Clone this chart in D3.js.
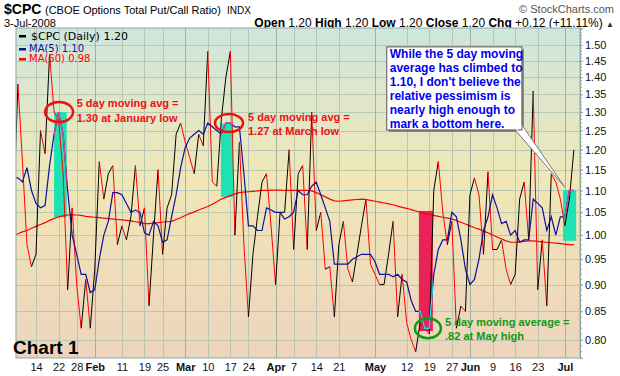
<!DOCTYPE html>
<html>
<head>
<meta charset="utf-8">
<script src="https://cdn.jsdelivr.net/npm/d3@7"></script>
<style>
  body { margin: 0; background: #fff; }
  svg { display: block; font-family: "Liberation Sans", Arial, sans-serif; }
</style>
</head>
<body>
<div id="chart"></div>
<script>
// daily $CPC closes, one per trading day starting 7-Jan-2008 (index 0)
var cpcClose = [1.05, 1.38, 1.17, 0.98, 0.935, 0.96, 1.25, 1.19, 1.47, 1.30,
  1.28, 1.14, 0.89, 1.06, 0.90, 0.82, 0.91, 0.82, 0.93, 1.17,
  1.08, 1.14, 1.16, 0.98, 1.02, 0.99, 1.04, 1.16, 1.02, 1.06,
  0.86, 1.00, 1.15, 0.96, 1.06, 1.09, 1.24, 1.27, 1.22, 1.18,
  1.14, 1.24, 1.21, 1.48, 1.12, 1.11, 1.28, 1.40, 1.48, 1.00,
  1.22, 0.98, 0.84, 0.96, 1.04, 1.12, 1.14, 1.02, 0.90, 1.05,
  1.05, 1.20, 0.97, 1.14, 1.16, 0.97, 1.30, 1.01, 1.05, 0.93,
  0.935, 0.84, 0.98, 1.03, 0.93, 0.905, 0.96, 1.02, 1.08, 0.94,
  0.92, 0.90, 0.90, 0.96, 1.03, 0.84, 0.92, 0.83, 0.80, 0.78,
  0.83, 0.82, 0.81, 1.10, 1.17, 1.05, 0.98, 1.03, 0.82, 0.86,
  0.85, 1.09, 1.13, 1.09, 0.96, 1.145, 0.97, 0.97, 0.99, 0.93,
  0.90, 0.92, 1.08, 1.12, 0.99, 1.36, 0.89, 0.99, 0.86, 1.14,
  1.12, 1.08, 1.02, 1.08, 1.20];

var ma5 = [1.13, 1.13, 1.12, 1.155, 1.10, 1.07, 1.06, 1.065, 1.16, 1.24,
  1.30, 1.24, 1.10, 1.00, 0.96, 0.92, 0.92, 0.885, 0.89, 0.95,
  1.00, 1.03, 1.095, 1.095, 1.09, 1.07, 1.05, 1.055, 1.05, 1.005,
  1.00, 1.03, 1.02, 0.985, 0.99, 1.04, 1.09, 1.155, 1.205, 1.23,
  1.24, 1.25, 1.24, 1.27, 1.26, 1.25, 1.24, 1.27, 1.27, 1.26,
  1.26, 1.14, 1.02, 1.02, 1.01, 1.01, 1.06, 1.055, 1.05, 1.05,
  1.035, 1.04, 1.05, 1.10, 1.09, 1.09, 1.11, 1.12, 1.09, 1.06,
  1.03, 0.94, 0.94, 0.94, 0.94, 0.95, 0.955, 0.96, 0.96, 0.96,
  0.945, 0.92, 0.92, 0.92, 0.915, 0.92, 0.91, 0.905, 0.87, 0.85,
  0.85, 0.82, 0.82, 0.92, 0.97, 0.99, 0.99, 1.05, 1.04, 0.99,
  0.93, 0.90, 0.91, 0.95, 1.01, 1.04, 1.09, 1.06, 1.025, 1.03,
  1.00, 1.01, 0.985, 0.99, 0.99, 1.08, 1.07, 1.06, 1.01, 1.04,
  1.00, 1.04, 1.04, 1.10, 1.10];

var ma60 = [1.000, 1.003, 1.007, 1.010, 1.015, 1.019, 1.023, 1.027, 1.032, 1.036,
  1.040, 1.042, 1.044, 1.045, 1.044, 1.043, 1.041, 1.040, 1.039, 1.038,
  1.037, 1.036, 1.035, 1.034, 1.033, 1.032, 1.031, 1.029, 1.027, 1.025,
  1.025, 1.026, 1.027, 1.028, 1.029, 1.030, 1.034, 1.038, 1.043, 1.047,
  1.051, 1.055, 1.059, 1.063, 1.068, 1.074, 1.080, 1.084, 1.088, 1.092,
  1.095, 1.096, 1.097, 1.098, 1.099, 1.100, 1.100, 1.101, 1.101, 1.101,
  1.100, 1.100, 1.100, 1.100, 1.100, 1.100, 1.099, 1.095, 1.090, 1.085,
  1.080, 1.076, 1.075, 1.076, 1.077, 1.078, 1.079, 1.080, 1.079, 1.077,
  1.075, 1.073, 1.071, 1.069, 1.067, 1.064, 1.061, 1.059, 1.056, 1.053,
  1.050, 1.047, 1.045, 1.043, 1.041, 1.039, 1.037, 1.035, 1.032, 1.028,
  1.024, 1.020, 1.016, 1.013, 1.009, 1.005, 1.001, 0.996, 0.992, 0.988,
  0.985, 0.985, 0.986, 0.987, 0.988, 0.988, 0.987, 0.986, 0.985, 0.984,
  0.983, 0.982, 0.981, 0.980, 0.980];

// x axis: trading-day index of each label
var tickDays = [5, 10, 14, 18, 24, 29, 33, 38, 43, 48, 52, 58, 62, 67, 72, 80, 87, 92, 97, 101, 106, 111, 116, 122];
var tickLabels = ["14", "22", "28", "Feb", "11", "19", "25", "Mar", "10", "17", "24", "Apr", "7", "14", "21", "May", "12", "19", "27", "Jun", "9", "16", "23", "Jul"];
var yTicks = [0.80, 0.85, 0.90, 0.95, 1.00, 1.05, 1.10, 1.15, 1.20, 1.25, 1.30, 1.35, 1.40, 1.45, 1.50];

// highlighted windows: [day from, day to, low, high]
var boxes = [
  { d0: 9.0, d1: 11.8, lo: 1.039, hi: 1.30, fill: "#1de3b4", ma: "#e8409a" },
  { d0: 45.9, d1: 48.6, lo: 1.085, hi: 1.268, fill: "#1de3b4", ma: "#e8409a" },
  { d0: 89.7, d1: 92.8, lo: 0.815, hi: 1.053, fill: "#ea2356", ma: "#22e0e0" },
  { d0: 121.6, d1: 124.5, lo: 0.988, hi: 1.101, fill: "#1de3b4", ma: "#e8409a" }
];

var margin = { top: 28, right: 40, bottom: 18, left: 16 },
  width = 564,
  height = 330;

var svg = d3.select("#chart")
  .append("svg")
  .attr("width", 620)
  .attr("height", 376);

var defs = svg.append("defs");
var grad = defs.append("linearGradient")
  .attr("id", "bg").attr("x1", 0).attr("y1", 0).attr("x2", 0).attr("y2", 1);
grad.append("stop").attr("offset", "0%").attr("stop-color", "#cee6de");
grad.append("stop").attr("offset", "45%").attr("stop-color", "#f0e7b6");
grad.append("stop").attr("offset", "100%").attr("stop-color", "#edd4bd");

defs.append("clipPath").attr("id", "plotclip")
  .append("rect").attr("width", width).attr("height", height);

var x = d3.scaleLinear().domain([0.575, 125.35]).range([0, width]);
var y = d3.scaleLog().domain([0.7696, 1.5554]).range([height, 0]);

// header
var head = svg.append("g");
head.append("text").attr("x", 4).attr("y", 14)
  .style("font-size", "14px").style("font-weight", "bold").text("$CPC");
head.append("text").attr("x", 45).attr("y", 14)
  .style("font-size", "11px").text("(CBOE Options Total Put/Call Ratio)");
head.append("text").attr("x", 227).attr("y", 14)
  .style("font-size", "10px").text("INDX");
head.append("text").attr("x", 614).attr("y", 13).attr("text-anchor", "end")
  .style("font-size", "11px").style("fill", "#555").text("\u00a9 StockCharts.com");
head.append("text").attr("x", 4).attr("y", 27)
  .style("font-size", "11px").text("3-Jul-2008");
var ohlc = head.append("text").attr("x", 614).attr("y", 27).attr("text-anchor", "end")
  .style("font-size", "12px");
[["Open", " 1.20  "], ["High", " 1.20  "], ["Low", " 1.20  "], ["Close", " 1.20  "], ["Chg", " +0.12 (+11.11%) "]]
  .forEach(function (p) {
    ohlc.append("tspan").style("font-weight", "bold").text(p[0]);
    ohlc.append("tspan").text(p[1]);
  });
ohlc.append("tspan").style("fill", "#333").style("font-size", "8px").text("\u25b2");

var g = svg.append("g")
  .attr("transform", "translate(" + margin.left + "," + margin.top + ")");

g.append("rect").attr("width", width).attr("height", height).attr("fill", "url(#bg)");

// grid
g.append("g").selectAll("line").data(yTicks).enter().append("line")
  .attr("x1", 0).attr("x2", width)
  .attr("y1", function (d) { return Math.round(y(d)) + 0.5; })
  .attr("y2", function (d) { return Math.round(y(d)) + 0.5; })
  .attr("stroke", "#b9c7b2").attr("stroke-width", 1);
g.append("g").selectAll("line").data(tickDays).enter().append("line")
  .attr("y1", 0).attr("y2", height)
  .attr("x1", function (d) { return Math.round(x(d)) + 0.5; })
  .attr("x2", function (d) { return Math.round(x(d)) + 0.5; })
  .attr("stroke", function (d, i) { return isNaN(+tickLabels[i]) ? "#a3b19f" : "#b9c7b2"; })
  .attr("stroke-width", 1);

var plot = g.append("g").attr("clip-path", "url(#plotclip)");

// highlight boxes
plot.selectAll("rect.box").data(boxes).enter().append("rect")
  .attr("class", "box")
  .attr("x", function (d) { return x(d.d0); })
  .attr("width", function (d) { return x(d.d1) - x(d.d0); })
  .attr("y", function (d) { return y(d.hi); })
  .attr("height", function (d) { return y(d.lo) - y(d.hi); })
  .attr("fill", function (d) { return d.fill; });

var idx = d3.range(cpcClose.length);

var maLine = function (arr) {
  return d3.line().x(function (i) { return x(i); }).y(function (i) { return y(arr[i]); })(idx);
};

plot.append("path").attr("d", maLine(ma60))
  .attr("fill", "none").attr("stroke", "#ff0000").attr("stroke-width", 1.2);

// price: black when up, red when down
plot.append("g").selectAll("line").data(d3.pairs(idx)).enter().append("line")
  .attr("x1", function (p) { return x(p[0]); })
  .attr("y1", function (p) { return y(cpcClose[p[0]]); })
  .attr("x2", function (p) { return x(p[1]); })
  .attr("y2", function (p) { return y(cpcClose[p[1]]); })
  .attr("stroke", function (p) { return cpcClose[p[1]] >= cpcClose[p[0]] ? "#000" : "#ff0000"; })
  .attr("stroke-width", 1);

plot.append("path").attr("d", maLine(ma5))
  .attr("fill", "none").attr("stroke", "#10109a").attr("stroke-width", 1.2);

// MA(5) recoloured inside each box
boxes.forEach(function (b, k) {
  defs.append("clipPath").attr("id", "bclip" + k).append("rect")
    .attr("x", x(b.d0)).attr("width", x(b.d1) - x(b.d0))
    .attr("y", y(b.hi) - 3).attr("height", y(b.lo) - y(b.hi) + 6);
  plot.append("path").attr("d", maLine(ma5)).attr("clip-path", "url(#bclip" + k + ")")
    .attr("fill", "none").attr("stroke", b.ma).attr("stroke-width", 1.3);
});

// frame and right axis
g.append("rect").attr("width", width).attr("height", height)
  .attr("fill", "none").attr("stroke", "#8fa8a8");

var yAxis = g.append("g").attr("transform", "translate(" + width + ",0)")
  .call(d3.axisRight(y).tickValues(yTicks).tickFormat(d3.format(".2f")).tickSize(3));
yAxis.select(".domain").attr("stroke", "#8fa8a8");
yAxis.selectAll(".tick line").attr("stroke", "#8fa8a8");
yAxis.selectAll("text").attr("x", 5).style("font-size", "11px").style("font-family", "Liberation Sans, Arial").attr("fill", "#111");

g.append("g").attr("transform", "translate(" + width + ",0)")
  .selectAll("line").data(d3.range(77, 156).map(function (d) { return d / 100; })).enter().append("line")
  .attr("x1", 0).attr("x2", 2)
  .attr("y1", function (d) { return y(d); }).attr("y2", function (d) { return y(d); })
  .attr("stroke", "#8fa8a8");

var xAxis = g.append("g").attr("transform", "translate(0," + height + ")")
  .call(d3.axisBottom(x).tickValues(tickDays).tickFormat(function (d, i) { return tickLabels[i]; }).tickSize(0));
xAxis.select(".domain").remove();
xAxis.selectAll("text").attr("y", 5)
  .style("font-size", "11px").style("font-family", "Liberation Sans, Arial").attr("fill", "#111")
  .style("font-weight", function (d, i) { return isNaN(+tickLabels[i]) ? "bold" : "normal"; });

// legend
var leg = g.append("g").style("font-family", "DejaVu Sans, Verdana, sans-serif");
leg.append("rect").attr("x", 3).attr("y", 7).attr("width", 7).attr("height", 2.5).attr("fill", "#000");
leg.append("text").attr("x", 15).attr("y", 11.5).style("font-size", "11px").text("$CPC (Daily) 1.20");
leg.append("rect").attr("x", 3).attr("y", 20).attr("width", 7).attr("height", 2.5).attr("fill", "#10109a");
leg.append("text").attr("x", 13).attr("y", 23.5).style("font-size", "10px").attr("fill", "#10109a").text("MA(5) 1.10");
leg.append("rect").attr("x", 3).attr("y", 30).attr("width", 7).attr("height", 2.5).attr("fill", "#ff0000");
leg.append("text").attr("x", 13).attr("y", 33.5).style("font-size", "10px").attr("fill", "#ff0000").text("MA(60) 0.98");

// annotations
var ann = g.append("g").style("font-weight", "bold").style("font-size", "11px");
ann.append("ellipse").attr("cx", x(10.1)).attr("cy", y(1.30)).attr("rx", 14).attr("ry", 10)
  .attr("fill", "none").attr("stroke", "#ee1111").attr("stroke-width", 2.5);
ann.append("text").attr("x", x(14)).attr("y", y(1.314)).attr("fill", "#ee1111").text("5 day moving avg =");
ann.append("text").attr("x", x(14)).attr("y", y(1.273)).attr("fill", "#ee1111").text("1.30 at January low");

ann.append("ellipse").attr("cx", x(47.7)).attr("cy", y(1.27)).attr("rx", 14).attr("ry", 9)
  .attr("fill", "none").attr("stroke", "#ee1111").attr("stroke-width", 2.5);
ann.append("text").attr("x", x(51.9)).attr("y", y(1.2756)).attr("fill", "#ee1111").text("5 day moving avg =");
ann.append("text").attr("x", x(51.9)).attr("y", y(1.238)).attr("fill", "#ee1111").text("1.27 at March low");

ann.append("ellipse").attr("cx", x(91.7)).attr("cy", y(0.82)).attr("rx", 13).attr("ry", 10)
  .attr("fill", "none").attr("stroke", "#119911").attr("stroke-width", 2.5);
ann.append("text").attr("x", x(95.5)).attr("y", y(0.824)).attr("fill", "#119911").text("5 day moving average =");
ann.append("text").attr("x", x(95.5)).attr("y", y(0.7996)).attr("fill", "#119911").text(".82 at May high");

// callout
var cL = x(82.6), cR = x(112.5), cT = y(1.494), cB = y(1.2515);
var co = g.append("g");
co.append("rect").attr("x", cL + 2).attr("y", cT + 2)
  .attr("width", cR - cL).attr("height", cB - cT).attr("fill", "#888");
co.append("path")
  .attr("d", "M" + x(111.0) + "," + cB + "L" + x(121.9) + "," + y(1.109) + "L" + cR + "," + y(1.265))
  .attr("fill", "#fff").attr("stroke", "#777");
co.append("rect").attr("x", cL).attr("y", cT)
  .attr("width", cR - cL).attr("height", cB - cT)
  .attr("fill", "#fff").attr("stroke", "#555");
co.append("path")
  .attr("d", "M" + (x(111.0) + 1) + "," + (cB - 0.5) + "L" + (cR - 0.5) + "," + (y(1.265) + 1))
  .attr("stroke", "#fff").attr("stroke-width", 2);
var coText = ["While the 5 day moving", "average has climbed to", "1.10, I don't believe the",
  "relative pessimism is", "nearly high enough to", "mark a bottom here."];
co.selectAll("text").data(coText).enter().append("text")
  .attr("x", cL + 3).attr("y", function (d, i) { return cT + 11 + i * 14; })
  .style("font-weight", "bold").style("font-size", "12px").attr("fill", "#0000ee")
  .text(function (d) { return d; });

svg.append("text").attr("x", 13).attr("y", 354)
  .style("font-weight", "bold").style("font-size", "19px").text("Chart 1");
</script>
</body>
</html>
